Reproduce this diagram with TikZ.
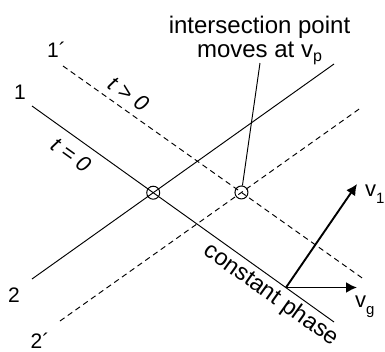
\documentclass[tikz,border=0pt]{standalone}
\usepackage{fontspec}
\setmainfont{Liberation Sans}
\usetikzlibrary{arrows.meta}
\begin{document}
\begin{tikzpicture}[x=1pt,y=-1pt,
  wave/.style={line width=0.95pt},
  wavedash/.style={line width=0.95pt, dash pattern=on 5.5pt off 4pt},
  ptmark/.style={circle, draw, line width=1pt, minimum size=13pt, inner sep=0pt},
  vec/.style={line width=1.9pt, -{Latex[length=11pt,width=11pt]}},
  lbl/.style={font=\fontsize{21}{24}\selectfont, inner sep=0pt},
  txt/.style={font=\fontsize{24}{24}\selectfont, inner sep=0pt},
  vlbl/.style={font=\fontsize{22}{24}\selectfont, inner sep=0pt, anchor=base west},
  tlbl/.style={font=\fontsize{22}{24}\selectfont\itshape, inner sep=0pt},
]
\useasboundingbox (0,0) rectangle (385,351);
% line end points
\coordinate (a1) at (32,106);  \coordinate (b1) at (334,322);
\coordinate (a2) at (32,279);  \coordinate (b2) at (334,64);
\coordinate (a1p) at (63,66);  \coordinate (b1p) at (365,280);
\coordinate (a2p) at (60,321); \coordinate (b2p) at (362,107);
% wave fronts
\draw[wave] (a1) -- (b1);
\draw[wave] (a2) -- (b2);
\draw[wavedash] (a1p) -- (b1p);
\draw[wavedash] (a2p) -- (b2p);
% intersection points
\node[ptmark] (c1) at (intersection of a1--b1 and a2--b2) {};
\node[ptmark] (c2) at (intersection of a1p--b1p and a2p--b2p) {};
% line labels
\node[lbl] (n1) at (20,92) {1};
\node[lbl] (n1p) at (56.5,50) {1´};
\node[lbl] (n2) at (14,295) {2};
\node[lbl] (n2p) at (40,341) {2´};
\node[tlbl, rotate=-35.4] (tg) at (129,94) {t > 0};
\node[tlbl, rotate=-35.6] (t0) at (71.5,155) {t = 0};
\node[txt, rotate=-35.6, font=\fontsize{23.5}{23}\selectfont] (cp) at (271,295) {constant phase};
% annotation
\node[txt, align=center, anchor=north] (ann) at (259.5,15.5) {intersection point\\moves at v\raisebox{-4pt}{\fontsize{16}{16}\selectfont p}};
\coordinate (ptr) at (260,63);
\draw[wave] (ptr) -- (c2);
% velocity vectors
\coordinate (o) at (286,287.5);
\coordinate (v1tip) at (357,184);
\coordinate (vgtip) at (357,287.5);
\draw[vec] (o) -- (v1tip);
\draw[vec] (o) -- (vgtip);
\node[vlbl] (lv1) at (365,196) {v\raisebox{-7pt}{\fontsize{15}{15}\selectfont 1}};
\node[vlbl] (lvg) at (355,307) {v\raisebox{-7pt}{\fontsize{15}{15}\selectfont g}};
\end{tikzpicture}
\end{document}
